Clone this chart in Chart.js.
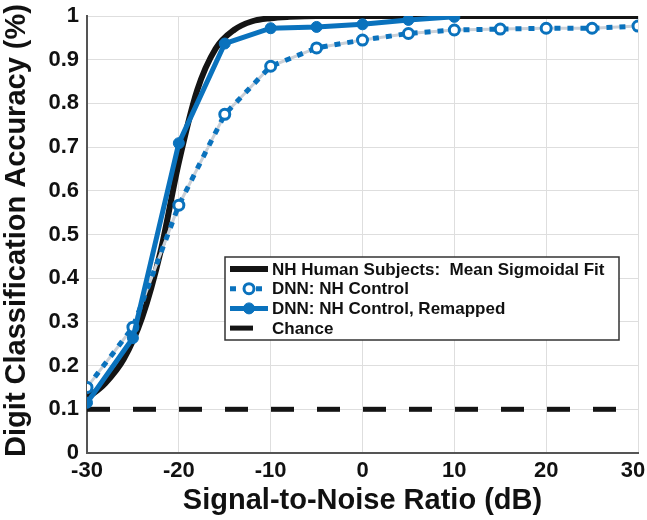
<!DOCTYPE html>
<html lang="en">
<head>
    <meta charset="UTF-8">
    <title>Digit classification accuracy vs SNR</title>
    <style>
        body { margin: 0; background: #fff; }
        #wrap { width: 647px; height: 520px; }
    </style>
</head>
<body>
<div id="wrap">
    <canvas id="accuracy" width="647" height="520"></canvas>
</div>

<script src="https://cdn.jsdelivr.net/npm/chart.js@4.4.1/dist/chart.umd.min.js"></script>
<script>
// x positions (dB) and accuracies
const snrDnn = [-30, -25, -20, -15, -10, -5, 0, 5, 10, 15, 20, 25, 30];
const dnnControl = [0.150, 0.288, 0.567, 0.775, 0.885, 0.927, 0.945, 0.960, 0.968, 0.970, 0.972, 0.972, 0.977];

const snrRemapped = [-30, -25, -20, -15, -10, -5, 0, 5, 10];
const dnnRemapped = [0.115, 0.263, 0.709, 0.937, 0.972, 0.975, 0.981, 0.991, 0.998];

const snrFit = [-30, -28, -26, -24, -22, -20, -18, -16, -14, -12, -10, -8, -5, 0, 10, 20, 30];
const humanFit = [0.125, 0.16, 0.215, 0.31, 0.46, 0.665, 0.83, 0.925, 0.968, 0.988, 0.995, 0.998, 1.0, 1.0, 1.0, 1.0, 1.0];

const snrChance = [-30, 30];
const chance = [0.1, 0.1];

const xTicks = [-30, -20, -10, 0, 10, 20, 30];

const labels = [
    "NH Human Subjects:  Mean Sigmoidal Fit",
    "DNN: NH Control",
    "DNN: NH Control, Remapped",
    "Chance",
];

const BLUE = "#0a72bd";
const BLACK = "#141414";
const FONT = "'Liberation Sans', Arial, sans-serif";

const pts = (xs, ys) => xs.map((x, i) => ({ x: x, y: ys[i] }));

// legend box drawn inside the plot, like the original
const insideLegend = {
    id: "insideLegend",
    afterDatasetsDraw(chart) {
        const ctx = chart.ctx;
        const x0 = 225, y0 = 257, w = 394, h = 83;
        ctx.save();
        ctx.fillStyle = "#fff";
        ctx.fillRect(x0, y0, w, h);
        ctx.strokeStyle = "#333";
        ctx.lineWidth = 1.5;
        ctx.strokeRect(x0, y0, w, h);
        ctx.font = "bold 17px " + FONT;
        ctx.textBaseline = "middle";
        ctx.fillStyle = "#111";
        const entries = [0, 2, 3, 4];
        entries.forEach((di, row) => {
            const ds = chart.data.datasets[di];
            const cy = y0 + 12 + row * 19.7;
            ctx.save();
            ctx.strokeStyle = ds.borderColor;
            ctx.lineWidth = ds.borderWidth;
            ctx.setLineDash(ds.borderDash || []);
            ctx.beginPath();
            ctx.moveTo(x0 + 5, cy);
            ctx.lineTo(x0 + 43, cy);
            ctx.stroke();
            ctx.setLineDash([]);
            if (ds.pointRadius > 0) {
                ctx.beginPath();
                ctx.arc(x0 + 24, cy, ds.pointRadius, 0, Math.PI * 2);
                ctx.fillStyle = ds.pointBackgroundColor;
                ctx.fill();
                ctx.lineWidth = ds.pointBorderWidth;
                ctx.strokeStyle = ds.pointBorderColor;
                ctx.stroke();
            }
            ctx.restore();
            ctx.fillText(ds.label, x0 + 47, cy + 1);
        });
        ctx.restore();
    }
};

// keep the last x tick label ("30") inside the canvas
const fitLastLabel = {
    id: "fitLastLabel",
    beforeDraw(chart) {
        const items = chart.scales.x.getLabelItems();
        const last = items[items.length - 1];
        if (last) last.options.translation[0] -= 5;
    }
};

new Chart("accuracy", {
    type: "line",
    data: {
        datasets: [
            {
                label: labels[0],
                data: pts(snrFit, humanFit),
                borderColor: BLACK,
                borderWidth: 6,
                pointRadius: 0,
                cubicInterpolationMode: "monotone",
                order: 4,
            },
            {
                // light underlay of the dotted series
                label: "",
                data: pts(snrDnn, dnnControl),
                borderColor: "#c9d0d8",
                borderWidth: 3,
                pointRadius: 0,
                order: 3,
            },
            {
                label: labels[1],
                data: pts(snrDnn, dnnControl),
                borderColor: BLUE,
                borderWidth: 5,
                borderDash: [6, 7],
                pointRadius: 5,
                pointBackgroundColor: "#fff",
                pointBorderColor: BLUE,
                pointBorderWidth: 3,
                order: 2,
            },
            {
                label: labels[2],
                data: pts(snrRemapped, dnnRemapped),
                borderColor: BLUE,
                borderWidth: 5,
                pointRadius: 5.5,
                pointBackgroundColor: BLUE,
                pointBorderColor: BLUE,
                pointBorderWidth: 1,
                order: 1,
            },
            {
                label: labels[3],
                data: pts(snrChance, chance),
                borderColor: BLACK,
                borderWidth: 5,
                borderDash: [23, 23],
                pointRadius: 0,
                order: 5,
            },
        ],
    },
    options: {
        responsive: false,
        animation: false,
        layout: { padding: { top: 16, right: 9, left: 0, bottom: 0 } },
        plugins: {
            legend: { display: false },
            tooltip: { enabled: false },
        },
        scales: {
            x: {
                type: "linear",
                min: -30,
                max: 30,
                afterBuildTicks: s => { s.ticks = xTicks.map(v => ({ value: v })); },
                afterFit: s => { s.height = 67; s.paddingLeft = 0; s.paddingRight = 0; },
                grid: { color: "#dedede", lineWidth: 1, drawTicks: false },
                border: { color: "#555", width: 2 },
                ticks: {
                    padding: 5,
                    color: "#111",
                    font: { family: FONT, size: 22, weight: "bold" },
                    maxRotation: 0,
                },
                title: {
                    display: true,
                    text: "Signal-to-Noise Ratio (dB)",
                    color: "#111",
                    font: { family: FONT, size: 29, weight: "bold" },
                    padding: { top: 0, bottom: 2 },
                },
            },
            y: {
                min: 0,
                max: 1,
                afterFit: s => { s.width = 87; s.paddingTop = 0; s.paddingBottom = 0; },
                grid: { color: "#dedede", lineWidth: 1, drawTicks: false },
                border: { color: "#555", width: 2 },
                ticks: {
                    stepSize: 0.1,
                    padding: 8,
                    color: "#111",
                    font: { family: FONT, size: 22, weight: "bold" },
                    callback: v => (Math.abs(v) < 1e-9 ? "0" : Math.abs(v - 1) < 1e-9 ? "1" : v.toFixed(1)),
                },
                title: {
                    display: true,
                    text: " Digit Classification Accuracy (%)",
                    color: "#111",
                    font: { family: FONT, size: 29, weight: "bold" },
                    padding: { top: 0, bottom: 0 },
                },
            },
        },
    },
    plugins: [insideLegend, fitLastLabel],
});
</script>
</body>
</html>
